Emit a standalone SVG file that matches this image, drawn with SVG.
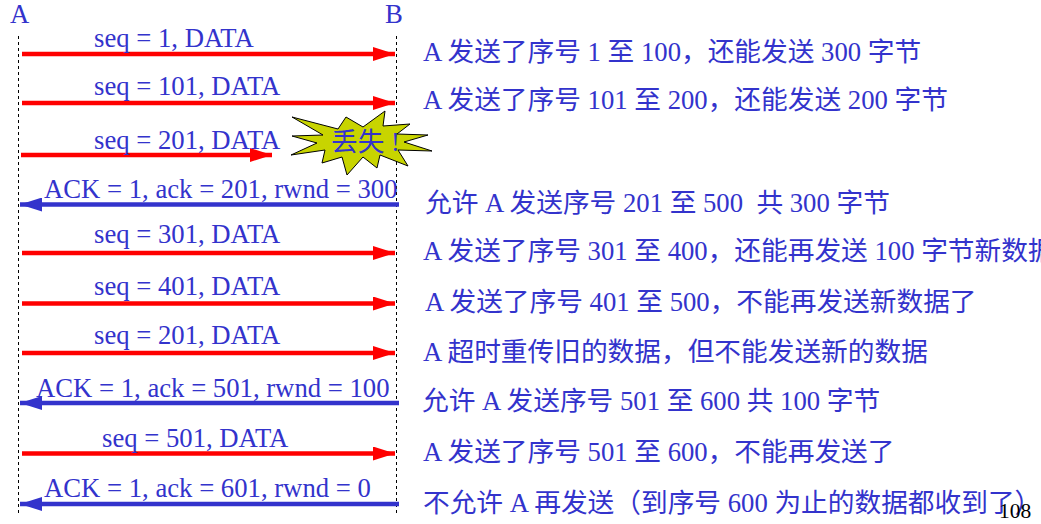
<svg xmlns="http://www.w3.org/2000/svg" width="1041" height="524" viewBox="0 0 1041 524">
<defs>
<marker id="r" markerUnits="userSpaceOnUse" markerWidth="22" markerHeight="14" refX="22" refY="7" orient="auto"><path d="M0 0L22 7L0 14Z" fill="#ff0000"/></marker>
<marker id="b" markerUnits="userSpaceOnUse" markerWidth="22" markerHeight="14" refX="22" refY="7" orient="auto"><path d="M0 0L22 7L0 14Z" fill="#3333cc"/></marker>
</defs>
<style>
text{font-family:"Liberation Serif","Noto Sans CJK SC",serif;fill:#3333cc;font-size:26.7px;white-space:pre}
.r{stroke:#ff0000;stroke-width:4.5;marker-end:url(#r);fill:none}
.b{stroke:#3333cc;stroke-width:4.5;marker-end:url(#b);fill:none}
.l{stroke:#000;stroke-width:1;stroke-dasharray:3 3;fill:none}
</style>
<rect width="1041" height="524" fill="#fff"/>
<g id="connectors">
<path class="l" d="M18.5 36V516"/><path class="l" d="M396.5 36V516"/>
<path class="r" d="M22 54H395"/><path class="r" d="M22 103H395"/><path class="r" d="M21 155H272"/>
<path class="b" d="M399 204.500H20"/>
<path class="r" d="M22 253H395"/><path class="r" d="M22 303.500H395"/><path class="r" d="M22 353H395"/>
<path class="b" d="M399 403H20"/>
<path class="r" d="M22 453.500H395"/>
<path class="b" d="M399 504H20"/>
</g>
<g id="hosts"><text x="10" y="23">A</text><text x="385" y="23">B</text></g>
<g id="msgs">
<text x="94" y="47">seq = 1, DATA</text>
<text x="94" y="95">seq = 101, DATA</text>
<text x="94" y="149">seq = 201, DATA</text>
<text x="44" y="198">ACK = 1, ack = 201, rwnd = 300</text>
<text x="94" y="243">seq = 301, DATA</text>
<text x="94" y="295">seq = 401, DATA</text>
<text x="94" y="344">seq = 201, DATA</text>
<text x="36" y="397">ACK = 1, ack = 501, rwnd = 100</text>
<text x="102" y="447">seq = 501, DATA</text>
<text x="44" y="497">ACK = 1, ack = 601, rwnd = 0</text>
</g>
<g id="lost">
<path d="M292 117L338 129L346 117L363 127L385 111L383 126L410 124L397 134L428 135L404 142L432 151L398 150L408 166L380 155L377 168L363 157L347 175L342 157L322 163L325 150L291 155L317 143L292 136L323 135Z" fill="#c8d400" stroke="#000" stroke-width="1"/>
<text x="331" y="151">丢失 !</text>
</g>
<g id="notes">
<text x="423" y="61">A 发送了序号 1 至 100，还能发送 300 字节</text>
<text x="423" y="109">A 发送了序号 101 至 200，还能发送 200 字节</text>
<text x="425" y="212">允许 A 发送序号 201 至 500  共 300 字节</text>
<text x="423" y="260">A 发送了序号 301 至 400，还能再发送 100 字节新数据</text>
<text x="425" y="311">A 发送了序号 401 至 500，不能再发送新数据了</text>
<text x="423" y="361">A 超时重传旧的数据，但不能发送新的数据</text>
<text x="422" y="410">允许 A 发送序号 501 至 600 共 100 字节</text>
<text x="423" y="461">A 发送了序号 501 至 600，不能再发送了</text>
<text x="423" y="512">不允许 A 再发送（到序号 600 为止的数据都收到了）</text>
</g>
<text id="page" x="999" y="518" style="fill:#000;font-size:21.500px">108</text>
</svg>
